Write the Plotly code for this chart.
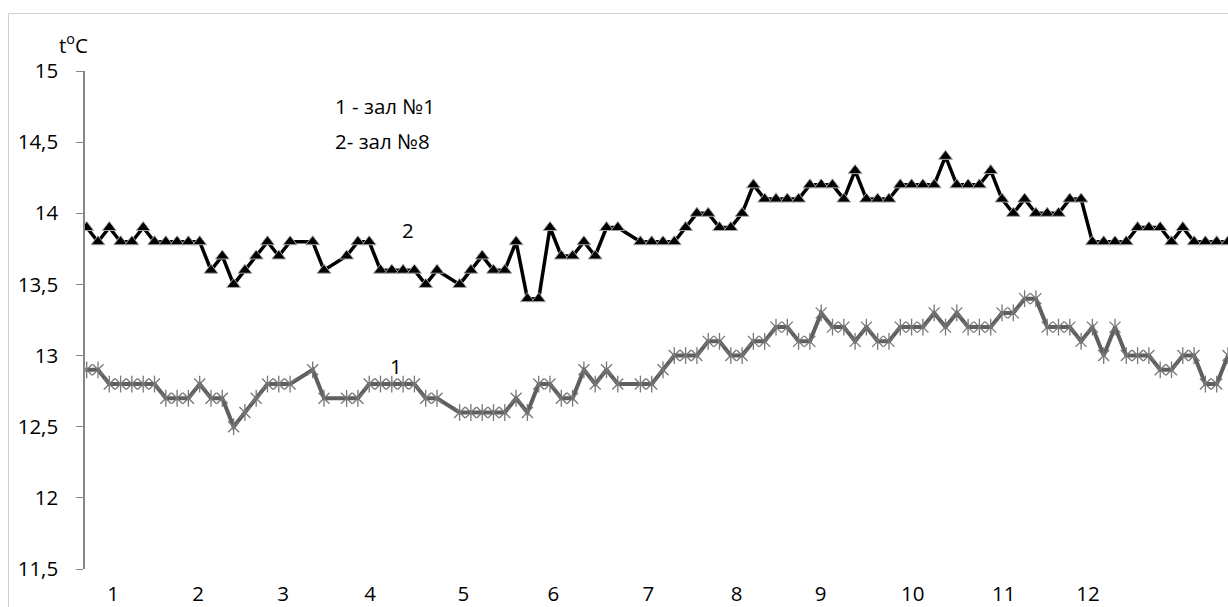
import plotly.graph_objects as go

# Daily air temperature readings in two exhibition halls (°C); None = no reading
hall1_temp = [
    12.9, 12.9, 12.8, 12.8, 12.8, 12.8, 12.8, 12.7, 12.7, 12.7,
    12.8, 12.7, 12.7, 12.5, 12.6, 12.7, 12.8, 12.8, 12.8, None,
    12.9, 12.7, None, 12.7, 12.7, 12.8, 12.8, 12.8, 12.8, 12.8,
    12.7, 12.7, None, 12.6, 12.6, 12.6, 12.6, 12.6, 12.7, 12.6,
    12.8, 12.8, 12.7, 12.7, 12.9, 12.8, 12.9, 12.8, None, 12.8,
    12.8, 12.9, 13.0, 13.0, 13.0, 13.1, 13.1, 13.0, 13.0, 13.1,
    13.1, 13.2, 13.2, 13.1, 13.1, 13.3, 13.2, 13.2, 13.1, 13.2,
    13.1, 13.1, 13.2, 13.2, 13.2, 13.3, 13.2, 13.3, 13.2, 13.2,
    13.2, 13.3, 13.3, 13.4, 13.4, 13.2, 13.2, 13.2, 13.1, 13.2,
    13.0, 13.2, 13.0, 13.0, 13.0, 12.9, 12.9, 13.0, 13.0, 12.8,
    12.8, 13.0,
]

hall8_temp = [
    13.9, 13.8, 13.9, 13.8, 13.8, 13.9, 13.8, 13.8, 13.8, 13.8,
    13.8, 13.6, 13.7, 13.5, 13.6, 13.7, 13.8, 13.7, 13.8, None,
    13.8, 13.6, None, 13.7, 13.8, 13.8, 13.6, 13.6, 13.6, 13.6,
    13.5, 13.6, None, 13.5, 13.6, 13.7, 13.6, 13.6, 13.8, 13.4,
    13.4, 13.9, 13.7, 13.7, 13.8, 13.7, 13.9, 13.9, None, 13.8,
    13.8, 13.8, 13.8, 13.9, 14.0, 14.0, 13.9, 13.9, 14.0, 14.2,
    14.1, 14.1, 14.1, 14.1, 14.2, 14.2, 14.2, 14.1, 14.3, 14.1,
    14.1, 14.1, 14.2, 14.2, 14.2, 14.2, 14.4, 14.2, 14.2, 14.2,
    14.3, 14.1, 14.0, 14.1, 14.0, 14.0, 14.0, 14.1, 14.1, 13.8,
    13.8, 13.8, 13.8, 13.9, 13.9, 13.9, 13.8, 13.9, 13.8, 13.8,
    13.8, 13.8,
]

day_index = list(range(len(hall8_temp)))

# Month labels along the time axis and where each one sits (in reading index)
month_labels = ["1", "2", "3", "4", "5", "6", "7", "8", "9", "10", "11", "12"]
month_pos = [2.33, 9.86, 17.39, 25.09, 33.33, 41.30, 49.71, 57.51, 64.95, 73.10, 81.16, 88.60]

y_ticks = [11.5, 12, 12.5, 13, 13.5, 14, 14.5, 15]

FONT = "Open Sans"
FSIZE = 20.5
W, H = 1228, 607
ML, MT, MB = 85, 71, 38
PW, PH = W - ML, H - MT - MB

ASTER = "#777777"

fig = go.Figure()

# Hall No.8: black line with triangle markers
fig.add_trace(go.Scatter(
    x=day_index, y=hall8_temp, mode="lines+markers", connectgaps=True,
    line=dict(color="#000000", width=3.5),
    marker=dict(symbol="triangle-up", size=12, color="#000000",
                line=dict(color="#a6a6a6", width=1)),
    showlegend=False, hoverinfo="skip",
))

# Hall No.1: grey line with asterisk markers (x plus vertical stroke)
fig.add_trace(go.Scatter(
    x=day_index, y=hall1_temp, mode="lines+markers", connectgaps=True,
    line=dict(color="#5f5f5f", width=4),
    marker=dict(symbol="x-thin-open", size=11, color=ASTER,
                line=dict(color=ASTER, width=1.3)),
    showlegend=False, hoverinfo="skip",
))
fig.add_trace(go.Scatter(
    x=day_index, y=hall1_temp, mode="markers",
    marker=dict(symbol="line-ns-open", size=12, color=ASTER,
                line=dict(color=ASTER, width=1.3)),
    showlegend=False, hoverinfo="skip",
))


def to_paper(px_x, px_y):
    """Pixel position in the page -> paper coordinates of the plot area."""
    return (px_x - ML) / PW, 1 - (px_y - MT) / PH


labels = [
    ("t<sup>o</sup>C", 57, 44, "left"),
    ("1 - зал №1", 333, 106, "left"),
    ("2- зал №8", 333, 141, "left"),
    ("2", 408, 230, "center"),
    ("1", 396, 366, "center"),
]
ann_list = []
for text, px, py, anchor in labels:
    ax, ay = to_paper(px, py)
    ann_list.append(dict(text=text, x=ax, y=ay, xref="paper", yref="paper",
                         xanchor=anchor, yanchor="middle", showarrow=False,
                         font=dict(family=FONT, size=FSIZE, color="#000000")))
fig.update_layout(annotations=ann_list)

# Light outer frame of the chart area
x0, y1 = to_paper(8.5, 13.5)
x1, y0 = to_paper(W + 20, H + 20)
fig.add_shape(type="rect", xref="paper", yref="paper",
              x0=x0, x1=x1, y0=y0, y1=y1,
              line=dict(color="#d0d0d0", width=1), layer="below")

fig.update_layout(
    width=W, height=H,
    margin=dict(l=ML, r=0, t=MT, b=MB, pad=0, autoexpand=False),
    paper_bgcolor="white", plot_bgcolor="white",
    separators=", ",
    font=dict(family=FONT, size=FSIZE, color="#000000"),
    xaxis=dict(
        range=[-0.15, 101.0], tickmode="array", tickvals=month_pos, ticktext=month_labels,
        showgrid=False, zeroline=False, showline=False, ticks="",
        ticklabelstandoff=10, automargin=False,
        tickfont=dict(family=FONT, size=FSIZE, color="#000000"),
    ),
    yaxis=dict(
        range=[11.5, 15], tickmode="array", tickvals=y_ticks,
        showgrid=False, zeroline=False, showline=True, linecolor="#868686", linewidth=1.5,
        ticks="outside", ticklen=7, tickcolor="#868686", tickwidth=1.2,
        ticklabelstandoff=14, automargin=False,
        tickfont=dict(family=FONT, size=FSIZE, color="#000000"),
    ),
)

fig.write_html("out.html")
